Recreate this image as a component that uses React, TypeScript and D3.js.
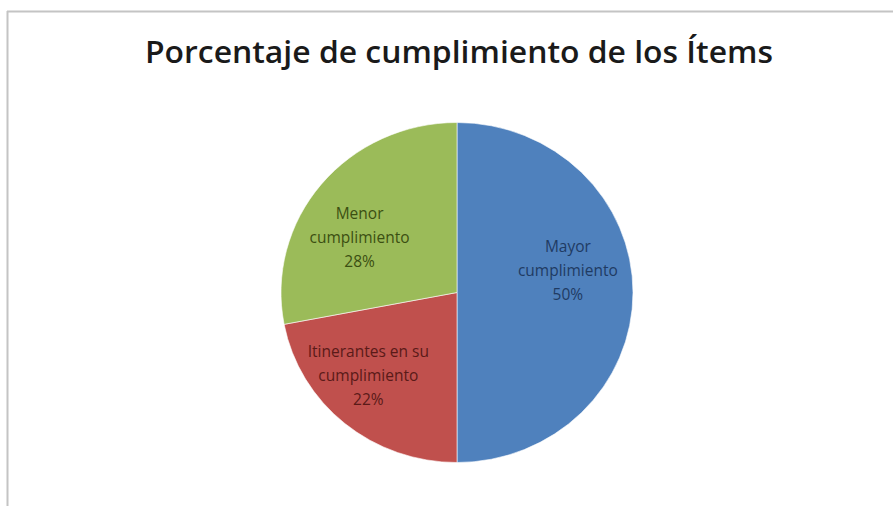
import React from "react";
import * as d3 from "d3";

const categories = ["Mayor cumplimiento", "Itinerantes en su cumplimiento", "Menor cumplimiento"];
const values = [50, 22, 28];
const labelLines = [
  ["Mayor", "cumplimiento", "50%"],
  ["Itinerantes en su", "cumplimiento", "22%"],
  ["Menor", "cumplimiento", "28%"],
];
const sliceColors = ["#4F81BD", "#C0504D", "#9BBB59"];
const textColors = ["#1F3B63", "#5A1A18", "#3B4F12"];
const title = "Porcentaje de cumplimiento de los Ítems";

// layout
const W = 893, H = 506;
const cx = 457, cy = 292.5, r = 176, ry = 170;
const labelNudge = [[0, -22], [-18, 0], [-12, 13]];

export default function App() {
  const pie = d3.pie<number>().sort(null).value((d) => d)(values);
  const arc = d3.arc<d3.PieArcDatum<number>>().innerRadius(0).outerRadius(r);
  const labelArc = d3.arc<d3.PieArcDatum<number>>().innerRadius(r * 0.63).outerRadius(r * 0.63);
  const lineH = 24;
  return (
    <svg width={W} height={H} style={{ position: "absolute", left: 0, top: 0, background: "#fff" }}>
      <rect x={0} y={0} width={W} height={H} fill="#fff" />
      <line x1={7.5} y1={11} x2={7.5} y2={H} stroke="#c4c4c4" strokeWidth={2} />
      <line x1={7} y1={11.5} x2={W} y2={11.5} stroke="#c4c4c4" strokeWidth={2} />
      <text x={459} y={63} textAnchor="middle" fontFamily="'Open Sans', sans-serif" fontWeight={600}
        fontSize={30} fill="#1a1a1a" textLength={628} lengthAdjust="spacingAndGlyphs">{title}</text>
      <g transform={`translate(${cx},${cy}) scale(1,${ry / r})`}>
        {pie.map((p, i) => (
          <path key={categories[i]} d={arc(p) || ""} fill={sliceColors[i]} stroke="#fff" strokeWidth={0.6} />
        ))}
      </g>
      {pie.map((p, i) => {
        const [lx, ly] = labelArc.centroid(p);
        const x = cx + lx + labelNudge[i][0];
        const y = cy + ly * (ry / r) + labelNudge[i][1];
        const lines = labelLines[i];
        return (
          <text key={"l" + i} textAnchor="middle" fontFamily="'Open Sans', sans-serif" fontSize={15.5} fill={textColors[i]}>
            {lines.map((t, j) => (
              <tspan key={j} x={x} y={y + (j - (lines.length - 1) / 2) * lineH + 5.5}>{t}</tspan>
            ))}
          </text>
        );
      })}
    </svg>
  );
}
